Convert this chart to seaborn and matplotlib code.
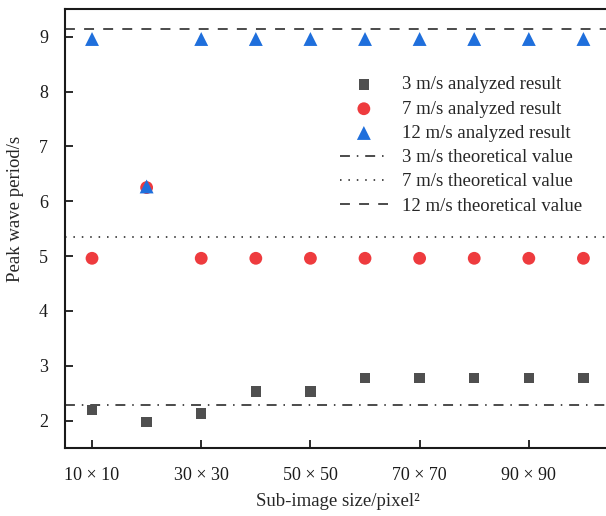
import matplotlib
matplotlib.use("Agg")
import matplotlib.pyplot as plt
import pandas as pd
import seaborn as sns

# sub-image side length (pixels) and peak wave period
sizes = [10, 20, 30, 40, 50, 60, 70, 80, 90, 100]
period_3 = [2.19, 1.97, 2.13, 2.53, 2.53, 2.78, 2.78, 2.78, 2.78, 2.78]
period_7 = [4.96, 6.25, 4.96, 4.96, 4.96, 4.96, 4.96, 4.96, 4.96, 4.96]
period_12 = [8.96, 6.27, 8.96, 8.96, 8.96, 8.96, 8.96, 8.96, 8.96, 8.96]
theory = {"3 m/s": 2.29, "7 m/s": 5.34, "12 m/s": 9.14}
tick_sizes = [10, 30, 50, 70, 90]
tick_labels = [f"{s} \u00d7 {s}" for s in tick_sizes]

sns.set_style("ticks")
plt.rcParams["font.family"] = ["Liberation Serif", "DejaVu Serif"]

fig = plt.figure(figsize=(6.06, 5.16), dpi=100)
ax = fig.add_axes([0.1068, 0.1318, 0.901, 0.850])

# theoretical values first so the markers sit on top
xr = [5, 105]
line_styles = {"3 m/s": (0, (6.5, 4.5, 1, 4.5)), "7 m/s": (0, (1, 4.5)), "12 m/s": (0, (6.5, 6))}
for speed, val in theory.items():
    sns.lineplot(x=xr, y=[val, val], ax=ax, color="#1a1a1a", lw=1.1,
                 linestyle=line_styles[speed], label=f"{speed} theoretical value")

df = pd.DataFrame({"size": sizes * 3,
                   "period": period_3 + period_7 + period_12,
                   "speed": ["3 m/s"] * 10 + ["7 m/s"] * 10 + ["12 m/s"] * 10})
palette = {"3 m/s": "#4f4f4f", "7 m/s": "#ee3b3e", "12 m/s": "#1f6fdc"}
markers = {"3 m/s": "s", "7 m/s": "o", "12 m/s": "^"}
msize = {"3 m/s": 55, "7 m/s": 85, "12 m/s": 100}
for speed in ["3 m/s", "7 m/s", "12 m/s"]:
    sub = df[df["speed"] == speed]
    sns.scatterplot(data=sub, x="size", y="period", ax=ax, color=palette[speed],
                    marker=markers[speed], s=msize[speed], edgecolor="none",
                    label=f"{speed} analyzed result", zorder=3)

ax.set_xlim(5, 105)
ax.set_ylim(1.5, 9.5)
ax.set_xticks(tick_sizes)
ax.set_xticklabels(tick_labels)
ax.set_yticks(range(2, 10))
ax.tick_params(direction="in", length=6, width=1.3, labelsize=13, colors="#1a1a1a")
ax.tick_params(axis="x", pad=14)
ax.tick_params(axis="y", pad=12)
for side in ["left", "bottom", "top"]:
    ax.spines[side].set_linewidth(1.5)
    ax.spines[side].set_color("#1a1a1a")
ax.spines["right"].set_visible(False)

ax.set_xlabel("Sub-image size/pixel\u00b2", fontsize=13.5, labelpad=6)
ax.set_ylabel("Peak wave period/s", fontsize=13.5)
ax.yaxis.set_label_coords(-0.075, 0.544)

handles, labels = ax.get_legend_handles_labels()
order = [3, 4, 5, 0, 1, 2]
ax.legend([handles[i] for i in order], [labels[i] for i in order],
          loc="upper left", bbox_to_anchor=(0.473, 0.886), frameon=False,
          fontsize=13.5, handlelength=2.56, handletextpad=0.75, labelspacing=0.38)

fig.savefig("out.png", dpi=100)
